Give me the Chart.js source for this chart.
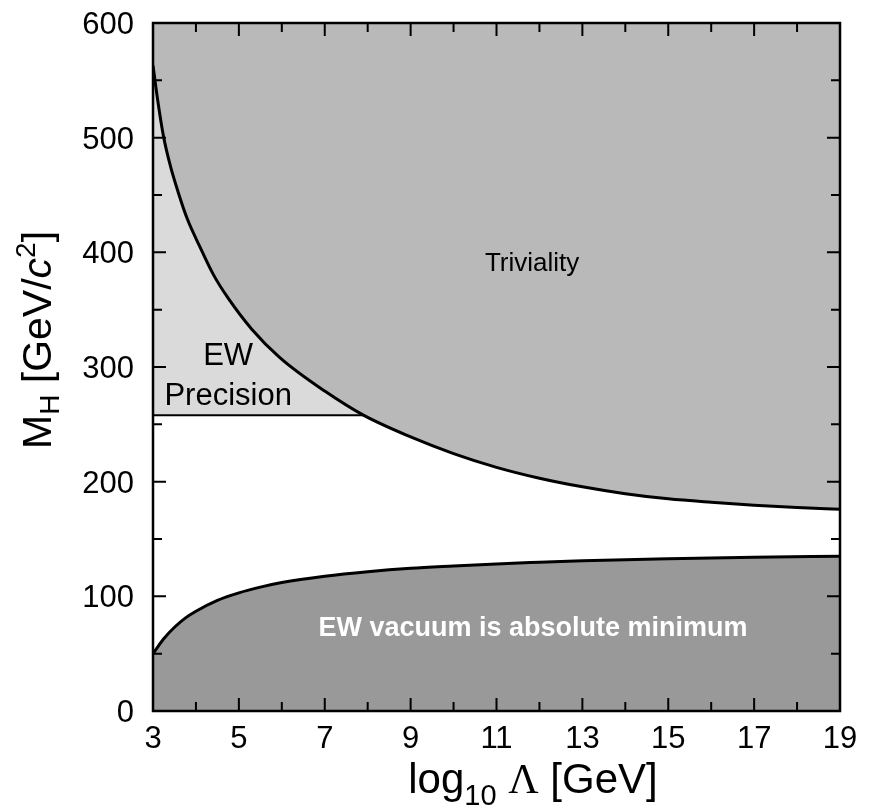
<!DOCTYPE html>
<html>
<head>
<meta charset="utf-8">
<script src="https://cdn.jsdelivr.net/npm/chart.js@4.4.1/dist/chart.umd.min.js"></script>
<style>
  html, body { margin: 0; padding: 0; background: #fff; }
  #caixa { width: 871px; height: 812px; }
</style>
</head>
<body>
<div id="caixa"><canvas id="myChart" width="871" height="812"></canvas></div>
<script>
// curva de trivialidade (limite superior)
const xTrivial = [3, 3.1, 3.24, 3.4, 3.59, 3.8, 4.09, 4.4, 4.75, 5.3, 5.96, 7, 7.9, 9, 10, 11, 12, 13, 14, 15, 16, 17, 18, 19];
const yTrivial = [563, 535, 502, 476, 452, 429, 405, 381, 360, 333, 308, 279, 258, 239, 224.5, 212.5, 203, 195.5, 189.5, 185, 182, 179.5, 177.5, 176];

// linha da precisao EW
const xPrecisao = [3, 7.9];
const yPrecisao = [258, 258];

// curva de estabilidade do vacuo (limite inferior)
const xVacuo = [3, 3.25, 3.5, 3.75, 4, 4.5, 5, 5.5, 6, 7, 8, 9, 10, 11, 12, 13, 14, 15, 17, 19];
const yVacuo = [50, 63, 73, 81, 87, 96.5, 103, 108, 112, 117.5, 121.5, 124.5, 126.5, 128.3, 129.7, 131, 132, 132.7, 134, 135];

// ticks dos eixos
const xTicksMaiores = [3, 5, 7, 9, 11, 13, 15, 17, 19];
const xTicksMenores = [4, 6, 8, 10, 12, 14, 16, 18];
const yTicksMaiores = [0, 100, 200, 300, 400, 500, 600];
const yTicksMenores = [50, 150, 250, 350, 450, 550];

// textos dentro do grafico: [texto, x, y]
const rotuloTrivial = ['Triviality', 11.83, 390];
const rotulosPrecisao = [
    ['EW', 4.75, 309],
    ['Precision', 4.75, 274]
];
const rotuloVacuo = ['EW vacuum is absolute minimum', 11.85, 72];

function pontos(xs, ys) {
    let lista = [];
    for (let i = 0; i < xs.length; i++) {
        lista.push({ x: xs[i], y: ys[i] });
    }
    return lista;
}

const FONTE = '"Liberation Sans", Arial, Helvetica, sans-serif';

// desenha os textos das regioes
const textosPlugin = {
    id: 'textos',
    afterDatasetsDraw(chart) {
        const { ctx, scales: { x, y } } = chart;
        ctx.save();
        ctx.fillStyle = '#000';
        ctx.textAlign = 'center';
        ctx.textBaseline = 'middle';
        ctx.font = '26px ' + FONTE;
        ctx.fillText(rotuloTrivial[0], x.getPixelForValue(rotuloTrivial[1]), y.getPixelForValue(rotuloTrivial[2]));
        ctx.font = '31px ' + FONTE;
        for (const r of rotulosPrecisao) {
            ctx.fillText(r[0], x.getPixelForValue(r[1]), y.getPixelForValue(r[2]));
        }
        ctx.fillStyle = '#fff';
        ctx.font = 'bold 27px ' + FONTE;
        ctx.fillText(rotuloVacuo[0], x.getPixelForValue(rotuloVacuo[1]), y.getPixelForValue(rotuloVacuo[2]));
        ctx.restore();
    }
};

// escreve uma sequencia de pedacos [texto, fonte, deslocamento] centrada em (cx, base)
function escreverPedacos(ctx, pedacos, cx, base) {
    let total = 0;
    for (const p of pedacos) {
        ctx.font = p[1];
        total += ctx.measureText(p[0]).width;
    }
    let posX = cx - total / 2;
    for (const p of pedacos) {
        ctx.font = p[1];
        ctx.fillText(p[0], posX, base + p[2]);
        posX += ctx.measureText(p[0]).width;
    }
}

// moldura, ticks para dentro e titulos dos eixos
const eixosPlugin = {
    id: 'eixos',
    afterDraw(chart) {
        const { ctx, chartArea: a, scales: { x, y } } = chart;
        ctx.save();
        ctx.strokeStyle = '#000';
        ctx.lineWidth = 2;
        ctx.beginPath();
        for (const v of xTicksMaiores.concat(xTicksMenores)) {
            const px = x.getPixelForValue(v);
            const tam = xTicksMaiores.includes(v) ? 13 : 9;
            ctx.moveTo(px, a.bottom); ctx.lineTo(px, a.bottom - tam);
            ctx.moveTo(px, a.top); ctx.lineTo(px, a.top + tam);
        }
        for (const v of yTicksMaiores.concat(yTicksMenores)) {
            const py = y.getPixelForValue(v);
            const tam = yTicksMaiores.includes(v) ? 13 : 9;
            ctx.moveTo(a.left, py); ctx.lineTo(a.left + tam, py);
            ctx.moveTo(a.right, py); ctx.lineTo(a.right - tam, py);
        }
        ctx.stroke();

        ctx.lineWidth = 2.5;
        ctx.strokeRect(a.left, a.top, a.right - a.left, a.bottom - a.top);

        // rotulos dos ticks
        ctx.fillStyle = '#000';
        ctx.font = '31px ' + FONTE;
        ctx.textBaseline = 'alphabetic';
        ctx.textAlign = 'center';
        for (const v of xTicksMaiores) {
            ctx.fillText(String(v), x.getPixelForValue(v), a.bottom + 37);
        }
        ctx.textAlign = 'right';
        for (const v of yTicksMaiores) {
            ctx.fillText(String(v), a.left - 19, y.getPixelForValue(v) + 11);
        }

        // titulo do eixo x
        ctx.textAlign = 'left';
        escreverPedacos(ctx, [
            ['log', '42px ' + FONTE, 0],
            ['10', '29px ' + FONTE, 12],
            [' ', '42px ' + FONTE, 0],
            ['\u039B', '42px "Liberation Serif", "Times New Roman", serif', 0],
            [' [GeV]', '42px ' + FONTE, 0]
        ], 533, 793);

        // titulo do eixo y (rotacionado)
        ctx.translate(51, 340);
        ctx.rotate(-Math.PI / 2);
        escreverPedacos(ctx, [
            ['M', '41px ' + FONTE, 0],
            ['H', '28px ' + FONTE, 8],
            [' [GeV/', '41px ' + FONTE, 0],
            ['c', 'italic 41px ' + FONTE, 0],
            ['2', '28px ' + FONTE, -16],
            [']', '41px ' + FONTE, 0]
        ], 0, 0);
        ctx.restore();
    }
};

const dados = {
    datasets: [
        {
            label: 'Triviality',
            data: pontos(xTrivial, yTrivial),
            borderColor: '#000',
            borderWidth: 3,
            backgroundColor: '#b9b9b9',
            fill: 'end',
            cubicInterpolationMode: 'monotone'
        },
        {
            label: 'EW Precision',
            data: pontos(xPrecisao, yPrecisao),
            borderColor: '#000',
            borderWidth: 2,
            backgroundColor: '#dadada',
            fill: 'end'
        },
        {
            label: 'EW vacuum',
            data: pontos(xVacuo, yVacuo),
            borderColor: '#000',
            borderWidth: 3,
            backgroundColor: '#999999',
            fill: 'start',
            cubicInterpolationMode: 'monotone'
        }
    ]
};

const config = {
    type: 'line',
    data: dados,
    options: {
        responsive: false,
        animation: false,
        devicePixelRatio: 1,
        layout: { padding: { left: 153, right: 31, top: 23, bottom: 101 } },
        elements: { point: { radius: 0 } },
        plugins: {
            legend: { display: false },
            tooltip: { enabled: false }
        },
        scales: {
            x: { type: 'linear', min: 3, max: 19, display: false },
            y: { type: 'linear', min: 0, max: 600, display: false }
        }
    },
    plugins: [textosPlugin, eixosPlugin]
};

let myChart = new Chart(document.getElementById('myChart'), config);
</script>
</body>
</html>
